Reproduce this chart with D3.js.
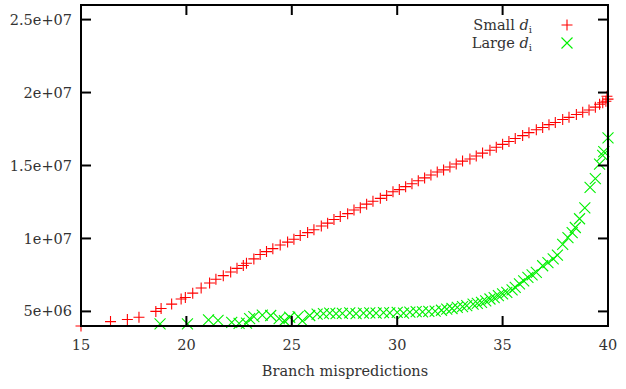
<!DOCTYPE html>
<html><head><meta charset="utf-8">
<script src="https://cdn.jsdelivr.net/npm/d3@7"></script>
<style>body{margin:0;background:#fff}svg{display:block}text{font-family:"DejaVu Serif","Liberation Serif",serif;fill:#333}</style>
</head><body><svg id="c" width="626" height="389"></svg>
<script>
const xTicks = [15, 20, 25, 30, 35, 40];
const yTicks = [5e6, 1e7, 1.5e7, 2e7, 2.5e7];
const yTickLabels = ["5e+06", "1e+07", "1.5e+07", "2e+07", "2.5e+07"];
const xLabel = "Branch mispredictions";
const seriesNames = ["Small", "Large"];

const smallX = [15.0,16.4,17.2,17.75,18.55,18.8,19.3,19.75,19.95,20.3,20.7,21.1,21.4,21.75,22.1,22.4,22.7,22.85,23.2,23.5,23.8,24.1,24.45,24.8,25.1,25.4,25.75,26.05,26.4,26.7,27.0,27.3,27.65,27.95,28.25,28.55,28.85,29.2,29.5,29.8,30.1,30.4,30.7,31.0,31.3,31.6,31.9,32.2,32.5,32.8,33.1,33.45,33.75,34.05,34.4,34.7,35.0,35.3,35.6,35.95,36.25,36.6,36.9,37.2,37.5,37.85,38.15,38.5,38.8,39.1,39.4,39.6,39.75,39.9,40.0,39.95];
const smallY = [4.0,4.3,4.45,4.6,5.0,5.2,5.5,5.85,5.95,6.25,6.6,6.95,7.2,7.45,7.7,7.95,8.15,8.3,8.6,8.9,9.1,9.3,9.55,9.75,9.95,10.2,10.4,10.6,10.85,11.05,11.3,11.5,11.7,11.95,12.1,12.35,12.55,12.75,12.95,13.2,13.35,13.55,13.75,13.95,14.15,14.35,14.55,14.7,14.9,15.1,15.3,15.45,15.65,15.85,16.05,16.25,16.45,16.65,16.85,17.05,17.25,17.45,17.6,17.8,17.95,18.15,18.3,18.5,18.65,18.8,19.0,19.2,19.3,19.4,19.55,19.75];

const largeX = [18.75,20.05,21.05,21.5,22.15,22.5,22.85,23.0,23.2,23.6,24.0,24.4,24.65,24.9,25.3,25.5,25.85,26.2,26.5,26.8,27.1,27.4,27.75,28.05,28.4,28.7,29.0,29.35,29.65,30.0,30.3,30.6,30.9,31.2,31.5,31.8,32.1,32.35,32.6,32.85,33.1,33.3,33.6,33.8,34.0,34.2,34.4,34.6,34.8,35.0,35.2,35.45,35.6,35.8,36.0,36.2,36.4,36.6,36.9,37.15,37.4,37.6,37.85,38.1,38.3,38.45,38.65,38.9,39.15,39.4,39.6,39.75,39.8,40.0];
const largeY = [4.14,4.14,4.42,4.38,4.25,4.18,4.2,4.5,4.64,4.75,4.72,4.5,4.36,4.6,4.65,4.35,4.72,4.82,4.85,4.88,4.85,4.87,4.9,4.85,4.88,4.9,4.88,4.92,4.9,4.93,4.88,4.95,4.98,4.97,5.0,5.02,5.08,5.15,5.2,5.27,5.33,5.4,5.5,5.55,5.62,5.72,5.85,5.95,6.08,6.2,6.3,6.47,6.65,6.88,7.1,7.33,7.5,7.67,8.13,8.35,8.6,8.85,9.6,10.05,10.4,10.75,11.35,12.1,13.5,14.1,15.1,15.7,15.95,16.9];

const svg = d3.select("#c");
const L = 81, R = 608, T = 5, B = 326;
const x = d3.scaleLinear().domain([15, 40]).range([L, R]);
const y = d3.scaleLinear().domain([4e6, 2.6e7]).range([B, T]);
const tl = 10;

const plot = svg.append("g");
const s = 5.5;
const small = smallX.map((v, i) => [v, smallY[i] * 1e6]);
const large = largeX.map((v, i) => [v, largeY[i] * 1e6]);
plot.selectAll("path.plus").data(small).join("path").attr("class", "plus")
  .attr("d", d => `M${x(d[0]) - s},${y(d[1])}h${2 * s}M${x(d[0])},${y(d[1]) - s}v${2 * s}`)
  .attr("stroke", "#ff0000").attr("stroke-width", 1.1).attr("fill", "none");
plot.selectAll("path.cross").data(large).join("path").attr("class", "cross")
  .attr("d", d => `M${x(d[0]) - s},${y(d[1]) - s}l${2 * s},${2 * s}M${x(d[0]) - s},${y(d[1]) + s}l${2 * s},${-2 * s}`)
  .attr("stroke", "#00f000").attr("stroke-width", 1.1).attr("fill", "none");

// frame
const axG = svg.append("g").attr("stroke", "#000").attr("stroke-width", 2);
axG.append("rect").attr("x", L).attr("y", T).attr("width", R - L).attr("height", B - T).attr("fill", "none");
axG.selectAll("line.yt").data(yTicks).join("line").attr("class", "yt")
  .attr("x1", L).attr("x2", L + tl).attr("y1", d => y(d)).attr("y2", d => y(d));
axG.selectAll("line.yt2").data(yTicks).join("line").attr("class", "yt2")
  .attr("x1", R).attr("x2", R - tl).attr("y1", d => y(d)).attr("y2", d => y(d));
axG.selectAll("line.xt").data(xTicks.slice(1, -1)).join("line").attr("class", "xt")
  .attr("x1", d => x(d)).attr("x2", d => x(d)).attr("y1", B).attr("y2", B - tl);
axG.selectAll("line.xt2").data(xTicks.slice(1, -1)).join("line").attr("class", "xt2")
  .attr("x1", d => x(d)).attr("x2", d => x(d)).attr("y1", T).attr("y2", T + tl);

// labels
const fs = 14.5;
svg.selectAll("text.yl").data(yTicks).join("text").attr("class", "yl")
  .attr("x", 72).attr("y", d => y(d)).attr("dy", "0.35em").attr("text-anchor", "end")
  .attr("font-size", fs).text((d, i) => yTickLabels[i]);
svg.selectAll("text.xl").data(xTicks).join("text").attr("class", "xl")
  .attr("x", d => x(d)).attr("y", 350).attr("text-anchor", "middle")
  .attr("font-size", fs).text(d => d);
svg.append("text").attr("x", 345).attr("y", 376).attr("text-anchor", "middle")
  .attr("font-size", fs).text(xLabel);

// legend
const leg = [{n: seriesNames[0], y: 25, t: "plus"}, {n: seriesNames[1], y: 43, t: "cross"}];
leg.forEach(l => {
  const t = svg.append("text").attr("x", 532).attr("y", l.y).attr("dy", "0.35em")
    .attr("text-anchor", "end").attr("font-size", fs);
  t.append("tspan").text(l.n + " ");
  t.append("tspan").attr("font-style", "italic").text("d");
  t.append("tspan").attr("font-size", 10).attr("dy", 3).text("i");
  const cx = 567, cy = l.y;
  svg.append("path")
    .attr("d", l.t === "plus"
      ? `M${cx - s},${cy}h${2 * s}M${cx},${cy - s}v${2 * s}`
      : `M${cx - s},${cy - s}l${2 * s},${2 * s}M${cx - s},${cy + s}l${2 * s},${-2 * s}`)
    .attr("stroke", l.t === "plus" ? "#ff0000" : "#00f000").attr("stroke-width", 1.1).attr("fill", "none");
});
</script></body></html>
